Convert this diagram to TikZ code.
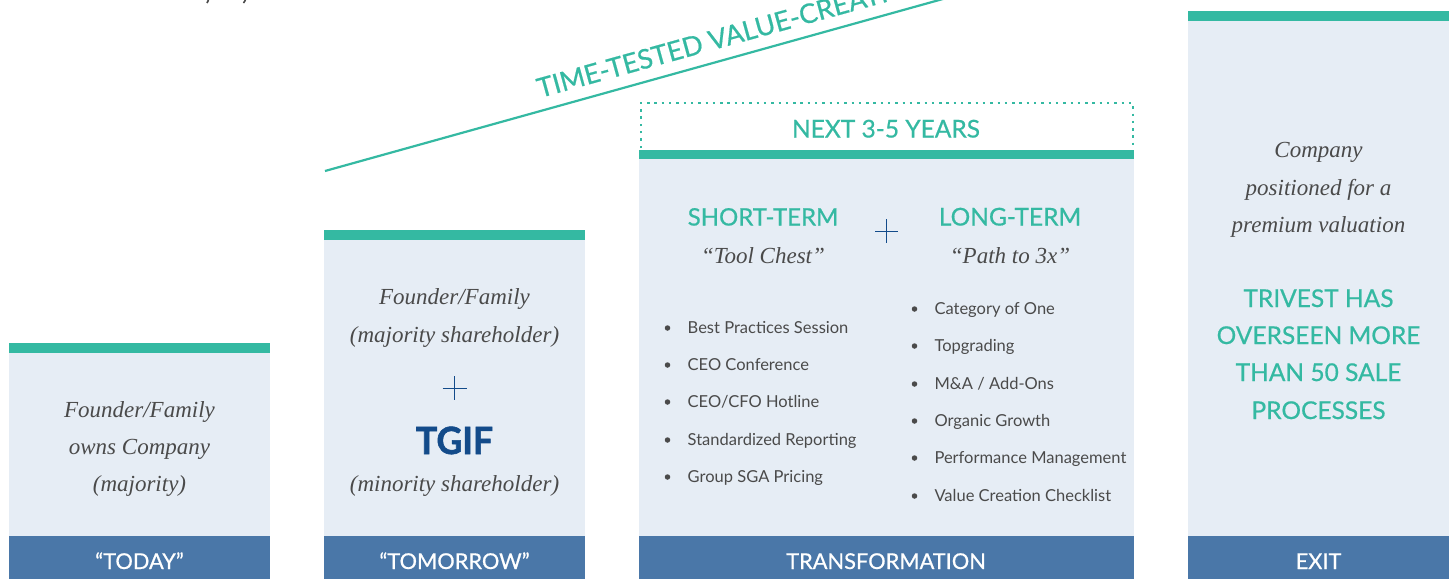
\documentclass[tikz,border=0pt]{standalone}
\usepackage{fontspec}
\setmainfont{Lato}
\newfontfamily\medfont{Lato}[FakeBold=0.6]
\newfontfamily\tgiffont{Lato}[UprightFont=* Bold,FakeBold=1.5,FakeStretch=0.95]
\newfontfamily\serifit{Liberation Serif}[ItalicFont=* Italic]
\definecolor{teal}{HTML}{34B9A2}
\definecolor{pale}{HTML}{E6EDF5}
\definecolor{steel}{HTML}{4A77A8}
\definecolor{navy}{HTML}{134B8A}
\definecolor{ink}{HTML}{4A4A4A}
\tikzset{
 x=1pt,y=-1pt,
 panel/.style={fill=pale,draw=none},
 bar/.style={fill=teal,draw=none},
 foot/.style={fill=steel,draw=none},
 foottext/.style={text=white,font=\medfont\fontsize{21.8}{24}\selectfont,anchor=base,inner sep=0pt},
 ital/.style={text=ink,font=\serifit\itshape\fontsize{23}{25}\selectfont,anchor=base,inner sep=0pt},
 head/.style={text=teal,font=\medfont\fontsize{24.5}{27}\selectfont,anchor=base,inner sep=0pt},
 item/.style={text=ink,font=\fontsize{16.5}{18}\selectfont,anchor=base west,inner sep=0pt},
 dotitem/.style={circle,fill=ink,minimum size=5.5pt,inner sep=0pt},
 crossline/.style={draw=navy,line width=1pt},
}
\begin{document}
\begin{tikzpicture}
\useasboundingbox (0,0) rectangle (1450,579);
\clip (0,0) rectangle (1450,579);
\fill[white] (0,0) rectangle (1450,579);
% clipped descenders at the top edge
\draw[ink,line width=1.6pt] (208.5,0) -- (207,3) (245.5,0) -- (243.5,3);
% panels
\fill[panel] (9,352) rectangle (270,536);
\fill[bar] (9,343) rectangle (270,353);
\fill[foot] (9,536) rectangle (270,579);
\fill[panel] (324,239) rectangle (585,536);
\fill[bar] (324,230) rectangle (585,240);
\fill[foot] (324,536) rectangle (585,579);
\fill[panel] (639,158) rectangle (1134,536);
\fill[bar] (639,150) rectangle (1134,159);
\fill[foot] (639,536) rectangle (1134,579);
\fill[panel] (1188,20) rectangle (1449,536);
\fill[bar] (1188,11) rectangle (1449,21);
\fill[foot] (1188,536) rectangle (1449,579);
\node[foottext] (f1) at (139.5,569) {“TODAY”};
\node[foottext] (f2) at (454.5,569) {“TOMORROW”};
\node[foottext] (f3) at (886,569) {TRANSFORMATION};
\node[foottext] (f4) at (1318.5,569) {EXIT};
% today
\node[ital] (a1) at (139.5,417) {Founder/Family};
\node[ital] (a2) at (139.5,454) {owns Company};
\node[ital] (a3) at (139.5,491) {(majority)};
% tomorrow
\node[ital] (b1) at (454.5,304) {Founder/Family};
\node[ital] (b2) at (454.5,342) {(majority shareholder)};
\draw[crossline] (442.7,388) -- (466.7,388) (454.7,376) -- (454.7,400);
\node[text=navy,font=\tgiffont\fontsize{37.5}{40}\selectfont,anchor=base,inner sep=0pt] (tg) at (454.5,454) {TGIF};
\node[ital] (b3) at (454.5,491) {(minority shareholder)};
% line
\draw[teal,line width=2.2pt] (325,171) -- (1047,-30);
\node[text=teal,font=\medfont\fontsize{27}{30}\selectfont,rotate=15.5,anchor=base west,inner sep=0pt] (tt) at (540,98) {TIME-TESTED VALUE-CREATION};
% dotted
\draw[teal,line width=2.4pt,dash pattern=on 2.4pt off 4.9pt] (641,148) -- (641,103) -- (1133,103) -- (1133,148);
\node[head] (n) at (886,137.5) {NEXT 3-5 YEARS};
% transformation
\node[head,font=\medfont\fontsize{24}{27}\selectfont] (s) at (763,225.5) {SHORT-TERM};
\node[head] (l) at (1010,225.5) {LONG-TERM};
\node[ital] (s2) at (763,263) {“Tool Chest”};
\node[ital] (l2) at (1010,263) {“Path to 3x”};
\draw[crossline] (875,231) -- (898,231) (886.5,219) -- (886.5,243);
\foreach \i/\y/\t in {1/328/{Best Practices Session},2/365/{CEO Conference},3/402/{CEO/CFO Hotline},4/440/{Standardized Reporting},5/477/{Group SGA Pricing}}{
 \node[dotitem] (sd\i) at (667.5,\y) {};
 \node[item] (st\i) at (687.5,\y+5.6) {\t};
}
\foreach \i/\y/\t in {1/309/{Category of One},2/346/{Topgrading},3/384/{M\&A / Add-Ons},4/421/{Organic Growth},5/458/{Performance Management},6/496/{Value Creation Checklist}}{
 \node[dotitem] (ld\i) at (914.5,\y) {};
 \node[item] (lt\i) at (934.3,\y+5.6) {\t};
}
% exit
\node[ital] (e1) at (1318.5,157) {Company};
\node[ital] (e2) at (1318.5,195) {positioned for a};
\node[ital] (e3) at (1318.5,232) {premium valuation};
\node[head] (e4) at (1318.5,307) {TRIVEST HAS};
\node[head] (e5) at (1318.5,344) {OVERSEEN MORE};
\node[head] (e6) at (1318.5,381) {THAN 50 SALE};
\node[head] (e7) at (1318.5,419) {PROCESSES};
\end{tikzpicture}
\end{document}
